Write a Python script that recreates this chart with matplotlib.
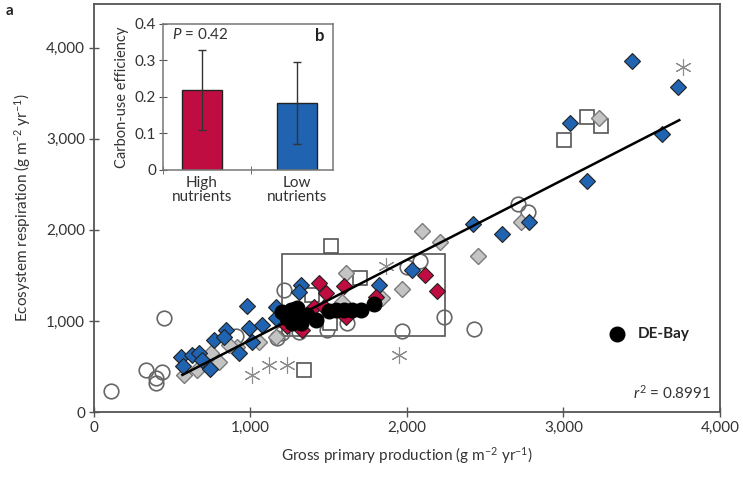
import matplotlib
matplotlib.use('Agg')
import matplotlib.pyplot as plt
from matplotlib.patches import Rectangle
from matplotlib.ticker import FuncFormatter

plt.rcParams['font.family'] = ['Lato', 'DejaVu Sans']
plt.rcParams['mathtext.fontset'] = 'custom'
plt.rcParams['mathtext.rm'] = 'Lato'
plt.rcParams['mathtext.it'] = 'Lato:italic'

# --- panel a data (GPP vs ecosystem respiration, g m-2 yr-1) ---
blue_x = [555, 570, 627, 672, 691, 742, 768, 845, 832, 928, 992, 979, 1075, 1165, 1165,
          1011, 1325, 1312, 1824, 2035, 2419, 2605, 2778, 3149, 3040, 3437, 3731, 3629, 1267]
blue_y = [606, 507, 628, 650, 573, 474, 793, 904, 826, 650, 926, 1168, 959, 1157, 1036,
          771, 1399, 1322, 1399, 1565, 2061, 1950, 2083, 2534, 3174, 3857, 3570, 3052, 1124]

red_x = [1440, 1485, 1600, 1408, 1472, 1805, 1613, 1235, 1331, 2118, 2195]
red_y = [1421, 1311, 1388, 1157, 1157, 1267, 1047, 948, 904, 1510, 1333]

gray_x = [2099, 2208, 2451, 1971, 1613, 1843, 1587, 576, 659, 749, 915, 1056, 1165,
          2726, 3226, 864, 800]
gray_y = [1983, 1862, 1708, 1355, 1532, 1256, 1212, 408, 463, 650, 716, 771, 826,
          2083, 3229, 738, 551]

circ_x = [109, 333, 397, 397, 435, 448, 909, 1216, 1312, 1491, 1619, 1971, 2234, 2426,
          1997, 2086, 2707, 2771, 1171, 1203]
circ_y = [231, 463, 375, 320, 441, 1036, 837, 1344, 882, 904, 981, 893, 1047, 915,
          1587, 1653, 2281, 2193, 815, 871]

sq_x = [1517, 1702, 1395, 1510, 1344, 3002, 3149, 3238]
sq_y = [1818, 1477, 1289, 981, 463, 2986, 3240, 3140]

ast_x = [3763, 1869, 1952, 1120, 1235, 1011]
ast_y = [3791, 1598, 628, 518, 518, 408]

debay_x = [1203, 1261, 1299, 1293, 1325, 1267, 1363, 1421, 1504, 1549, 1600, 1651, 1709,
           1792, 1235, 1312]
debay_y = [1102, 1124, 1146, 1036, 981, 981, 1069, 1014, 1113, 1124, 1124, 1124, 1124,
           1190, 1036, 1091]

# regression line
fit_slope = 0.881
fit_intercept = -90
fit_xmin, fit_xmax = 565, 3740

# DE-Bay box (range of site years)
box_x = [1200, 2245]
box_y = [835, 1730]

# --- panel b data (carbon-use efficiency) ---
cue_labels = ['High\nnutrients', 'Low\nnutrients']
cue_mean = [0.219, 0.183]
cue_err = [0.109, 0.113]

BLUE = '#2063b0'
RED = '#c00d41'
EDGE = '#222222'
SPINE = '#555555'

fig = plt.figure(figsize=(7.43, 4.78), dpi=100)
ax = fig.add_axes([0.1265, 0.138, 0.8425, 0.8536])

ax.add_patch(Rectangle((box_x[0], box_y[0]), box_x[1] - box_x[0], box_y[1] - box_y[0],
                       fill=False, edgecolor='#555555', linewidth=1.2, zorder=1))

ax.plot(circ_x, circ_y, 'o', ms=10.5, mfc='none', mec='#666666', mew=1.2, zorder=2)
ax.plot(sq_x, sq_y, 's', ms=10, mfc='white', mec='#555555', mew=1.2, zorder=2)
ax.plot(ast_x, ast_y, marker=(6, 2, 0), ls='none', ms=12, mec='#8c8c8c', mew=0.8, zorder=2)
ax.plot(gray_x, gray_y, 'D', ms=8, mfc='#c4c4c4', mec='#7a7a7a', mew=1.0, zorder=3)
ax.plot(blue_x, blue_y, 'D', ms=8, mfc=BLUE, mec=EDGE, mew=0.8, zorder=4)
ax.plot(red_x, red_y, 'D', ms=8, mfc=RED, mec=EDGE, mew=0.8, zorder=4)
ax.plot([fit_xmin, fit_xmax],
        [fit_slope * fit_xmin + fit_intercept, fit_slope * fit_xmax + fit_intercept],
        color='black', lw=1.8, zorder=5)
ax.plot(debay_x, debay_y, 'o', ms=10.5, mfc='black', mec='black', zorder=6)

# legend for DE-Bay, drawn in axes coordinates
ax.plot([0.835], [0.191], 'o', ms=10.5, color='black', transform=ax.transAxes, clip_on=False)
ax.text(0.868, 0.191, 'DE-Bay', transform=ax.transAxes, ha='left', va='center',
        fontsize=11, fontweight='bold', color='#222222')
ax.text(0.986, 0.048, r'$r^2$ = 0.8991', transform=ax.transAxes, ha='right', va='center',
        fontsize=11, color='#333333')

ax.set_xlim(0, 4000)
ax.set_ylim(0, 4480)
ax.set_xticks([0, 1000, 2000, 3000, 4000])
ax.set_yticks([0, 1000, 2000, 3000, 4000])
comma = FuncFormatter(lambda v, p: f'{int(v):,}')
ax.xaxis.set_major_formatter(comma)
ax.yaxis.set_major_formatter(comma)
ax.tick_params(direction='inout', length=7, width=1, color=SPINE, labelsize=11,
               labelcolor='#333333', pad=3)
for s in ax.spines.values():
    s.set_color(SPINE)
    s.set_linewidth(1.3)
ax.set_xlabel(r'Gross primary production (g m$^{-2}$ yr$^{-1}$)', fontsize=11,
              color='#333333', labelpad=7)
ax.set_ylabel(r'Ecosystem respiration (g m$^{-2}$ yr$^{-1}$)', fontsize=11,
              color='#333333', labelpad=9)

fig.text(0.008, 0.968, 'a', fontsize=11, fontweight='bold', color='#222222')

# --- inset b ---
ins = fig.add_axes([0.2194, 0.6444, 0.2288, 0.3054])
ins.bar([0, 1], cue_mean, width=0.43, color=[RED, BLUE], edgecolor=EDGE, linewidth=1.0,
        yerr=cue_err, error_kw=dict(ecolor='#333333', elinewidth=1.0, capsize=3, capthick=1.0))
ins.set_xlim(-0.41, 1.38)
ins.set_ylim(0, 0.4)
ins.set_yticks([0, 0.1, 0.2, 0.3, 0.4])
ins.yaxis.set_major_formatter(FuncFormatter(lambda v, p: '0' if v == 0 else f'{v:.1f}'))
ins.set_xticks([0, 1])
ins.set_xticklabels(cue_labels, fontsize=11, color='#333333', linespacing=1.0)
ins.set_xticks([-0.41, 0.52], minor=True)
ins.tick_params(axis='x', which='major', length=0, pad=4)
ins.tick_params(axis='x', which='minor', direction='inout', length=6, color=SPINE)
ins.tick_params(axis='y', direction='inout', length=6, color=SPINE, labelsize=11,
                labelcolor='#333333', pad=2)
for s in ins.spines.values():
    s.set_color('#777777')
    s.set_linewidth(1.1)
ins.set_ylabel('Carbon-use efficiency', fontsize=10.5, color='#333333', labelpad=4)
ins.text(0.05, 0.93, r'$P$ = 0.42', transform=ins.transAxes, ha='left', va='center',
         fontsize=11, color='#333333')
ins.text(0.95, 0.92, 'b', transform=ins.transAxes, ha='right', va='center',
         fontsize=12, fontweight='bold', color='#222222')

fig.savefig('out.png', dpi=100)
